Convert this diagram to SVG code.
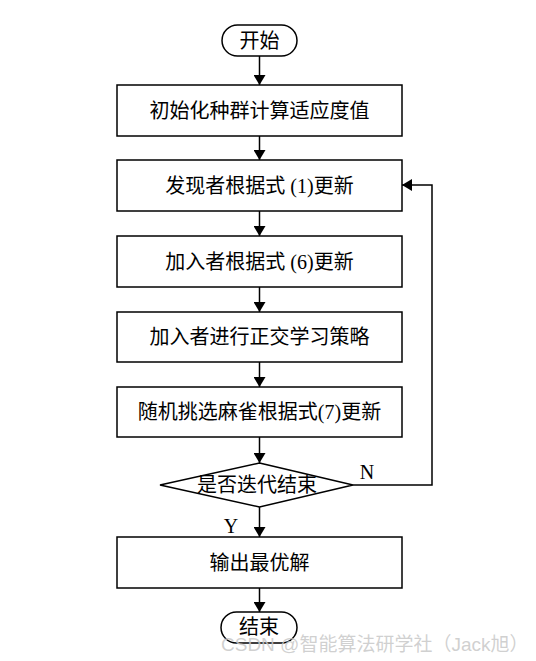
<svg xmlns="http://www.w3.org/2000/svg" width="536" height="661" viewBox="0 0 536 661">
<style>
.s{fill:#fff;stroke:#000;stroke-width:1.5}
.t{font-family:"Liberation Serif","Noto Sans CJK SC",serif;font-size:20px;fill:#000;text-anchor:middle}
.c{fill:none;stroke:#000;stroke-width:1.5}
.w{font-family:"Liberation Sans","Noto Sans CJK SC",sans-serif;font-size:19px;fill:#c8c8c8;fill-opacity:0.85}
</style>
<defs>
<marker id="a" viewBox="0 0 10 12" refX="10" refY="6" markerWidth="10" markerHeight="12" markerUnits="userSpaceOnUse" orient="auto">
<path d="M0,0 L10,6 L0,12 Z" fill="#000"/>
</marker>
</defs>
<rect width="536" height="661" fill="#fff"/>
<g id="connectors">
<line class="c" x1="259.5" y1="56" x2="259.5" y2="85" marker-end="url(#a)"/>
<line class="c" x1="259.5" y1="136" x2="259.5" y2="160" marker-end="url(#a)"/>
<line class="c" x1="259.5" y1="211" x2="259.5" y2="236" marker-end="url(#a)"/>
<line class="c" x1="259.5" y1="287" x2="259.5" y2="312" marker-end="url(#a)"/>
<line class="c" x1="259.5" y1="362" x2="259.5" y2="387" marker-end="url(#a)"/>
<line class="c" x1="259.5" y1="437" x2="259.5" y2="463" marker-end="url(#a)"/>
<line class="c" x1="259.5" y1="507" x2="259.5" y2="537" marker-end="url(#a)"/>
<line class="c" x1="259.5" y1="588" x2="259.5" y2="612" marker-end="url(#a)"/>
<polyline class="c" points="353,485 432,485 432,185 402,185" marker-end="url(#a)"/>
<text class="t" x="367" y="479">N</text>
<text class="t" x="231" y="533">Y</text>
</g>
<g id="start">
<rect class="s" x="222" y="25" width="75" height="31" rx="15.5"/>
<text class="t" x="259.5" y="47.5">开始</text>
</g>
<g id="init">
<rect class="s" x="117" y="85" width="285" height="51"/>
<text class="t" x="259.5" y="117.5">初始化种群计算适应度值</text>
</g>
<g id="discoverer">
<rect class="s" x="117" y="160" width="285" height="51"/>
<text class="t" x="259.5" y="192.5">发现者根据式 (1)更新</text>
</g>
<g id="joiner">
<rect class="s" x="117" y="236" width="285" height="51"/>
<text class="t" x="259.5" y="268.5">加入者根据式 (6)更新</text>
</g>
<g id="orthogonal">
<rect class="s" x="117" y="312" width="285" height="50"/>
<text class="t" x="259.5" y="344">加入者进行正交学习策略</text>
</g>
<g id="random">
<rect class="s" x="117" y="387" width="285" height="50"/>
<text class="t" x="259.5" y="419">随机挑选麻雀根据式(7)更新</text>
</g>
<g id="decision">
<polygon class="s" points="259.5,463 353,485 259.5,507 160,485"/>
<text class="t" x="257" y="492">是否迭代结束</text>
</g>
<g id="output">
<rect class="s" x="117" y="537" width="285" height="51"/>
<text class="t" x="259.5" y="569.5">输出最优解</text>
</g>
<g id="end">
<rect class="s" x="221" y="612" width="76" height="31" rx="15.5"/>
<text class="t" x="259" y="634">结束</text>
</g>
<text class="w" x="221" y="651">CSDN @智能算法研学社（Jack旭）</text>
</svg>
